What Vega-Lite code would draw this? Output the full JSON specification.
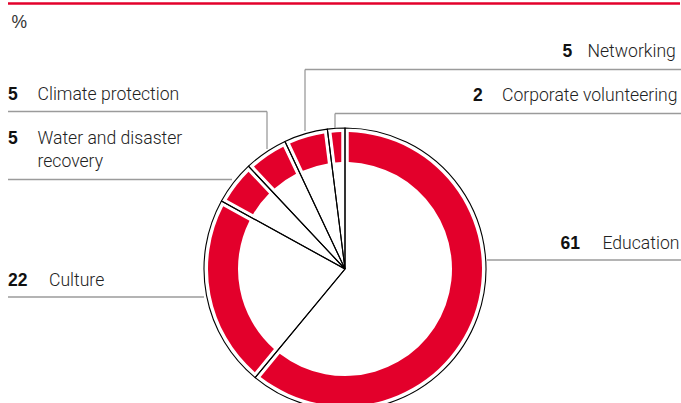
{
  "$schema": "https://vega.github.io/schema/vega-lite/v6.json",
  "width": 681,
  "height": 403,
  "autosize": {"type": "none"},
  "padding": 0,
  "background": "white",
  "config": {"view": {"stroke": null}},
  "datasets": {
    "slices": [
      {"category": "Education", "value": 61, "rank": 1},
      {"category": "Culture", "value": 22, "rank": 2},
      {"category": "Water and disaster recovery", "value": 5, "rank": 3},
      {"category": "Climate protection", "value": 5, "rank": 4},
      {"category": "Networking", "value": 5, "rank": 5},
      {"category": "Corporate volunteering", "value": 2, "rank": 6}
    ],
    "callouts": [
      {"category": "Education", "label": "Education", "value": 61, "numX": 560.5, "textX": 602.5, "textY": 249, "lineX": 487, "lineX2": 681, "lineY": 260, "tickX": null, "tickY2": null},
      {"category": "Culture", "label": "Culture", "value": 22, "numX": 8, "textX": 49, "textY": 286, "lineX": 8, "lineX2": 204, "lineY": 297, "tickX": null, "tickY2": null},
      {"category": "Water and disaster recovery", "label": "Water and disaster\nrecovery", "value": 5, "numX": 8, "textX": 37.5, "textY": 144, "lineX": 8, "lineX2": 232, "lineY": 179.5, "tickX": null, "tickY2": null},
      {"category": "Climate protection", "label": "Climate protection", "value": 5, "numX": 8, "textX": 37.5, "textY": 100, "lineX": 8, "lineX2": 267, "lineY": 111.5, "tickX": 267, "tickY2": 149},
      {"category": "Networking", "label": "Networking", "value": 5, "numX": 562.5, "textX": 587.5, "textY": 57, "lineX": 305, "lineX2": 681, "lineY": 69.5, "tickX": 305, "tickY2": 131},
      {"category": "Corporate volunteering", "label": "Corporate volunteering", "value": 2, "numX": 473, "textX": 502, "textY": 100.5, "lineX": 335, "lineX2": 681, "lineY": 113.5, "tickX": 335, "tickY2": 128}
    ]
  },
  "layer": [
    {
      "data": {"values": [{"x": 8, "x2": 680, "y": 3.5}]},
      "mark": {"type": "rule", "color": "#e3002b", "strokeWidth": 2.5},
      "encoding": {
        "x": {"field": "x", "type": "quantitative", "scale": {"domain": [0, 681], "nice": false, "zero": false}, "axis": null},
        "x2": {"field": "x2"},
        "y": {"field": "y", "type": "quantitative", "scale": {"domain": [0, 403], "nice": false, "zero": false, "reverse": true}, "axis": null}
      }
    },
    {
      "data": {"values": [{"text": "%", "x": 11.5, "y": 28}]},
      "mark": {"type": "text", "font": "Liberation Sans", "fontSize": 17.5, "color": "#333333", "align": "left", "baseline": "alphabetic"},
      "encoding": {
        "x": {"field": "x", "type": "quantitative", "scale": {"domain": [0, 681], "nice": false, "zero": false}, "axis": null},
        "y": {"field": "y", "type": "quantitative", "scale": {"domain": [0, 403], "nice": false, "zero": false, "reverse": true}, "axis": null},
        "text": {"field": "text"}
      }
    },
    {
      "data": {"name": "slices"},
      "mark": {"type": "arc", "innerRadius": 107, "outerRadius": 137, "padAngle": 0.043, "color": "#e3002b"},
      "encoding": {
        "theta": {"field": "value", "type": "quantitative", "stack": true},
        "order": {"field": "rank", "type": "quantitative"},
        "x": {"datum": 345, "type": "quantitative", "scale": {"domain": [0, 681], "nice": false, "zero": false}, "axis": null},
        "y": {"datum": 269, "type": "quantitative", "scale": {"domain": [0, 403], "nice": false, "zero": false, "reverse": true}, "axis": null}
      }
    },
    {
      "data": {"name": "slices"},
      "mark": {"type": "arc", "innerRadius": 0, "outerRadius": 141, "filled": false, "stroke": "#000000", "strokeWidth": 1.1},
      "encoding": {
        "theta": {"field": "value", "type": "quantitative", "stack": true},
        "order": {"field": "rank", "type": "quantitative"},
        "x": {"datum": 345, "type": "quantitative", "scale": {"domain": [0, 681], "nice": false, "zero": false}, "axis": null},
        "y": {"datum": 269, "type": "quantitative", "scale": {"domain": [0, 403], "nice": false, "zero": false, "reverse": true}, "axis": null}
      }
    },
    {
      "data": {"name": "callouts"},
      "mark": {"type": "rule", "color": "#9b9b9b", "strokeWidth": 1.3},
      "encoding": {
        "x": {"field": "lineX", "type": "quantitative", "scale": {"domain": [0, 681], "nice": false, "zero": false}, "axis": null},
        "x2": {"field": "lineX2"},
        "y": {"field": "lineY", "type": "quantitative", "scale": {"domain": [0, 403], "nice": false, "zero": false, "reverse": true}, "axis": null}
      }
    },
    {
      "data": {"name": "callouts"},
      "transform": [{"filter": "datum.tickX != null"}],
      "mark": {"type": "rule", "color": "#9b9b9b", "strokeWidth": 1.3},
      "encoding": {
        "x": {"field": "tickX", "type": "quantitative", "scale": {"domain": [0, 681], "nice": false, "zero": false}, "axis": null},
        "y": {"field": "lineY", "type": "quantitative", "scale": {"domain": [0, 403], "nice": false, "zero": false, "reverse": true}, "axis": null},
        "y2": {"field": "tickY2"}
      }
    },
    {
      "data": {"name": "callouts"},
      "mark": {"type": "text", "font": "Liberation Sans", "fontSize": 17.5, "fontWeight": "bold", "color": "#111111", "align": "left", "baseline": "alphabetic"},
      "encoding": {
        "x": {"field": "numX", "type": "quantitative", "scale": {"domain": [0, 681], "nice": false, "zero": false}, "axis": null},
        "y": {"field": "textY", "type": "quantitative", "scale": {"domain": [0, 403], "nice": false, "zero": false, "reverse": true}, "axis": null},
        "text": {"field": "value", "type": "quantitative"}
      }
    },
    {
      "data": {"name": "callouts"},
      "mark": {"type": "text", "font": "Roboto", "fontWeight": 300, "fontSize": 17.6, "color": "#222222", "align": "left", "baseline": "alphabetic", "lineBreak": "\n", "lineHeight": 22.7},
      "encoding": {
        "x": {"field": "textX", "type": "quantitative", "scale": {"domain": [0, 681], "nice": false, "zero": false}, "axis": null},
        "y": {"field": "textY", "type": "quantitative", "scale": {"domain": [0, 403], "nice": false, "zero": false, "reverse": true}, "axis": null},
        "text": {"field": "label"}
      }
    }
  ]
}
